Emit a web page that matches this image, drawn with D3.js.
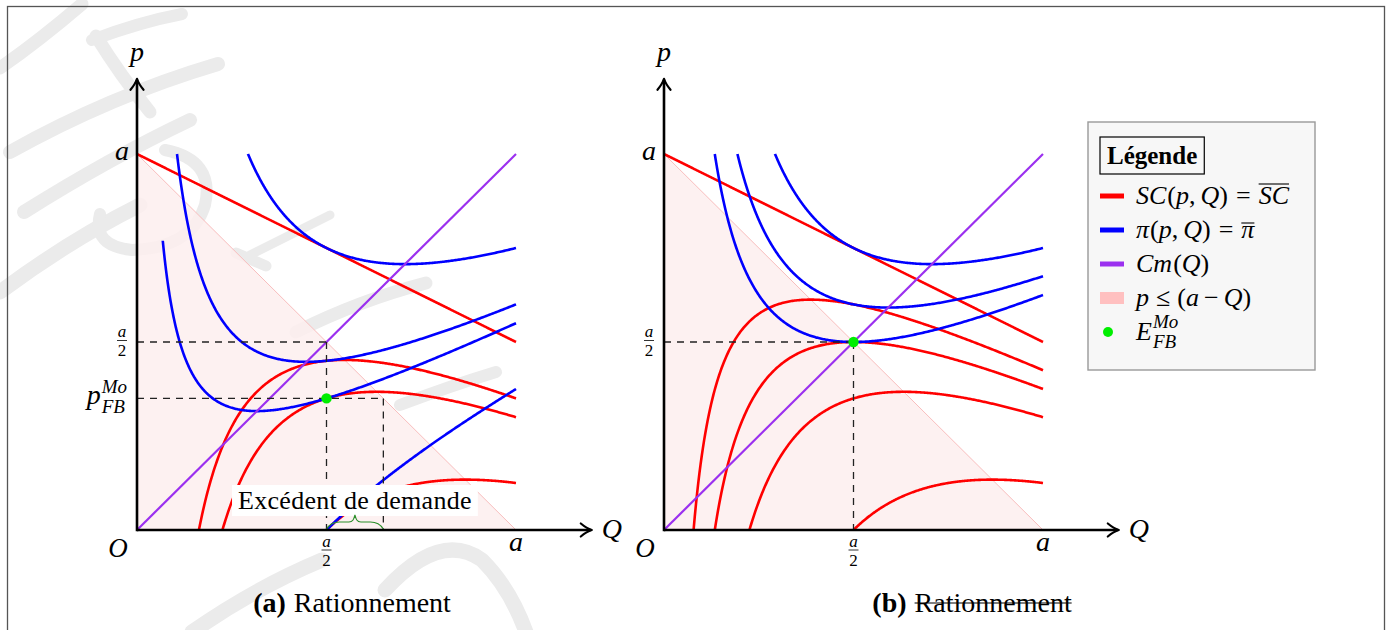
<!DOCTYPE html>
<html><head><meta charset="utf-8">
<script src="https://cdn.jsdelivr.net/npm/d3@7"></script>
<style>
body{margin:0;background:#fff}
svg{display:block}
text{font-family:"Liberation Serif","Times New Roman",serif;fill:#000}
</style>
</head><body>
<svg id="c" width="1391" height="630"></svg>
<script>
// ---------------- data ----------------
const A = 1; // the demand intercept "a"
// iso-surplus levels  SC = c :  p = a - Q/2 - c/Q
const scLevelsA = [0, 0.15, 0.2, 0.375];
const scLevelsB = [0, 0.075, 0.125, 0.2, 0.375];
// iso-profit levels  pi = k :  p = Q/2 + k/Q
const piLevelsA = [0.25, 0.1, 0.05, -0.125];
const piStartA  = [null, null, 0.068, null];
const piLevelsB = [0.25, 0.175, 0.125];
const piStartB  = [null, null, null];
// equilibrium points (Q, p)
const eqA = [0.5, 0.35];
const eqB = [0.5, 0.5];
const rationedQA = 0.65;      // demand at p_FB (a - p)
const axisExtent = 1.2;
const captionTags = ['(a)', '(b)'];
const captionWord = 'Rationnement';
const excessLabel = 'Excédent de demande';
const legendTitle = 'Légende';

// ---------------- colours ----------------
const RED = '#ff0000', BLUE = '#0000ff', PURPLE = '#9b30ef', GREEN = '#00ee00';
const PINKFILL = '#fdefef', PINKEDGE = '#f8bdbd', PINKSW = '#ffc0c0';

const svg = d3.select('#c');

// ---------------- watermark (decorative) ----------------
const wm = svg.append('g').attr('fill', 'none').attr('stroke', '#ebebeb')
  .attr('stroke-linecap', 'round').attr('stroke-linejoin', 'round');
const wmStrokes = [
  ['M0,68 Q40,40 82,4', 13],
  ['M92,40 Q140,22 182,14', 12],
  ['M96,36 Q120,75 150,112', 13],
  ['M10,152 Q110,96 218,64', 14],
  ['M24,212 Q110,158 190,120', 14],
  ['M0,292 Q70,240 140,205', 15],
  ['M165,150 Q215,160 205,205 Q192,248 132,250 Q92,246 100,214', 12],
  ['M236,253 L266,266', 11],
  ['M296,332 Q360,300 426,283', 13],
  ['M400,405 Q450,386 496,372', 12],
  ['M192,632 Q255,588 322,560', 15],
  ['M385,590 Q440,530 482,560 Q510,588 526,632', 15],
  ['M250,255 Q300,230 330,215', 9]
];
wmStrokes.forEach(s => wm.append('path').attr('d', s[0]).attr('stroke-width', s[1]));

// ---------------- frame ----------------
svg.append('rect').attr('x', 7.5).attr('y', 6.5).attr('width', 1377).attr('height', 650)
  .attr('fill', 'none').attr('stroke', '#555').attr('stroke-width', 1.3);

// ---------------- helpers ----------------
function seqText(g, x, y, parts, opt) {
  opt = opt || {};
  const grp = g.append('g');
  let cx = 0;
  parts.forEach(p => {
    if (p.gap) { cx += p.gap; return; }
    if (p.sub !== undefined || p.sup !== undefined) {
      let w = 0;
      [['sup', p.supDy], ['sub', p.subDy]].forEach(([key, dy]) => {
        if (p[key] === undefined) return;
        const t = grp.append('text').attr('x', cx).attr('y', dy)
          .attr('font-size', p.size).attr('font-style', 'italic').text(p[key]);
        w = Math.max(w, t.node().getComputedTextLength());
      });
      cx += w;
      return;
    }
    const t = grp.append('text').attr('x', cx).attr('y', p.dy || 0)
      .attr('font-size', p.size || opt.size || 26)
      .attr('font-style', p.it ? 'italic' : 'normal')
      .attr('font-weight', p.b ? 'bold' : 'normal')
      .text(p.t);
    const w = t.node().getComputedTextLength();
    if (p.over) {
      grp.append('line').attr('x1', cx + (p.overOff || 0)).attr('x2', cx + w + (p.overOff || 0))
        .attr('y1', p.overY).attr('y2', p.overY).attr('stroke', '#000').attr('stroke-width', 1.1);
    }
    if (p.strike) {
      grp.append('line').attr('x1', cx).attr('x2', cx + w)
        .attr('y1', p.strikeY).attr('y2', p.strikeY).attr('stroke', '#000').attr('stroke-width', 1.2);
    }
    cx += w + (p.after || 0);
  });
  let ox = x;
  if (opt.anchor === 'middle') ox = x - cx / 2;
  if (opt.anchor === 'end') ox = x - cx;
  grp.attr('transform', `translate(${ox},${y})`);
  return cx;
}

function frac(g, cx, barY, size) {
  g.append('text').attr('x', cx).attr('y', barY - 3.5).attr('text-anchor', 'middle')
    .attr('font-size', size).attr('font-style', 'italic').text('a');
  g.append('line').attr('x1', cx - 5).attr('x2', cx + 5).attr('y1', barY).attr('y2', barY)
    .attr('stroke', '#000').attr('stroke-width', 0.8);
  g.append('text').attr('x', cx).attr('y', barY + 15.5).attr('text-anchor', 'middle')
    .attr('font-size', size).text('2');
}

function arrowHead(g, x, y, rot) {
  g.append('path').attr('d', 'M-6.5,11 Q-1.5,5 0,0 Q1.5,5 6.5,11')
    .attr('transform', `translate(${x},${y}) rotate(${rot})`)
    .attr('fill', 'none').attr('stroke', '#000').attr('stroke-width', 2.2)
    .attr('stroke-linecap', 'round').attr('stroke-linejoin', 'round');
}

function scCurve(c) {
  const q0 = c === 0 ? 0 : A - Math.sqrt(A * A - 2 * c);
  return d3.range(301).map(i => { const q = q0 + (A - q0) * i / 300; return [q, c === 0 ? A - q / 2 : A - q / 2 - c / q]; });
}
function piCurve(k, start) {
  let q0 = start != null ? start : (k > 0 ? A - Math.sqrt(A * A - 2 * k) : Math.sqrt(-2 * k));
  return d3.range(401).map(i => { const t = i / 400; const q = q0 + (A - q0) * t * t; return [q, q / 2 + k / q]; });
}

// ---------------- panels ----------------
function panel(cfg) {
  const g = svg.append('g');
  const x = d3.scaleLinear().domain([0, A]).range([cfg.x0, cfg.x1]);
  const y = d3.scaleLinear().domain([0, A]).range([530, 154]);
  const line = d3.line().x(d => x(d[0])).y(d => y(d[1]));

  g.append('path').attr('d', line([[0, 0], [0, A], [A, 0]]) + 'Z').attr('fill', PINKFILL).attr('fill-opacity', 0.85);
  g.append('path').attr('d', line([[0, A], [A, 0]])).attr('stroke', PINKEDGE).attr('stroke-width', 1).attr('fill', 'none');

  cfg.sc.forEach(c => g.append('path').attr('d', line(scCurve(c)))
    .attr('fill', 'none').attr('stroke', RED).attr('stroke-width', 2.6));
  cfg.pi.forEach((k, i) => g.append('path').attr('d', line(piCurve(k, cfg.piStart[i])))
    .attr('fill', 'none').attr('stroke', BLUE).attr('stroke-width', 2.6));
  g.append('path').attr('d', line([[0, 0], [A, A]])).attr('fill', 'none').attr('stroke', PURPLE).attr('stroke-width', 2.2);

  const dash = (pts) => g.append('path').attr('d', line(pts)).attr('fill', 'none')
    .attr('stroke', '#222').attr('stroke-width', 1.3).attr('stroke-dasharray', '7,6');
  dash([[0, A / 2], [A / 2, A / 2]]);
  dash([[A / 2, A / 2], [A / 2, 0]]);
  if (cfg.rationing) {
    dash([[0, cfg.eq[1]], [cfg.rationQ, cfg.eq[1]]]);
    dash([[cfg.rationQ, cfg.eq[1]], [cfg.rationQ, 0]]);
  }
  g.append('circle').attr('cx', x(cfg.eq[0])).attr('cy', y(cfg.eq[1])).attr('r', 5.2).attr('fill', GREEN);

  if (cfg.rationing) {
    const mid = (x(cfg.eq[0]) + x(cfg.rationQ)) / 2;
    const t = g.append('text').attr('x', mid).attr('y', 509).attr('text-anchor', 'middle')
      .attr('font-size', 26).attr('letter-spacing', 0.3).text(excessLabel);
    const bb = t.node().getBBox();
    g.insert('rect', () => t.node()).attr('x', bb.x - 6).attr('y', 485).attr('width', bb.width + 12)
      .attr('height', 31).attr('fill', '#fff');
    const x1 = x(cfg.eq[0]), x2 = x(cfg.rationQ), xm = (x1 + x2) / 2, y0 = y(0);
    const p = d3.path();
    p.moveTo(x1, y0 - 1);
    p.bezierCurveTo(x1 + 3, y0 - 6, x1 + 7, y0 - 8, x1 + 13, y0 - 8);
    p.lineTo(xm - 6, y0 - 8);
    p.bezierCurveTo(xm - 2, y0 - 8, xm - 1, y0 - 11, xm, y0 - 15);
    p.bezierCurveTo(xm + 1, y0 - 11, xm + 2, y0 - 8, xm + 6, y0 - 8);
    p.lineTo(x2 - 13, y0 - 8);
    p.bezierCurveTo(x2 - 7, y0 - 8, x2 - 3, y0 - 6, x2, y0 - 1);
    g.append('path').attr('d', p.toString()).attr('fill', 'none').attr('stroke', '#2a8f2a').attr('stroke-width', 1.1);
  }

  // axes
  const x0 = x(0), y0 = y(0), xe = x(axisExtent), ye = y(axisExtent);
  g.append('line').attr('x1', x0).attr('x2', xe - 1).attr('y1', y0).attr('y2', y0).attr('stroke', '#000').attr('stroke-width', 2.6);
  g.append('line').attr('x1', x0).attr('x2', x0).attr('y1', y0 + 1.3).attr('y2', ye + 1).attr('stroke', '#000').attr('stroke-width', 2.6);
  arrowHead(g, xe, y0, 90);
  arrowHead(g, x0, ye, 0);

  g.append('text').attr('x', x0).attr('y', 61).attr('text-anchor', 'middle').attr('font-size', 28).attr('font-style', 'italic').text('p');
  g.append('text').attr('x', xe + 20).attr('y', y0 + 8).attr('text-anchor', 'middle').attr('font-size', 28).attr('font-style', 'italic').text('Q');
  g.append('text').attr('x', x0 - 15).attr('y', y(A) + 6).attr('text-anchor', 'middle').attr('font-size', 28).attr('font-style', 'italic').text('a');
  g.append('text').attr('x', x(A)).attr('y', y0 + 21).attr('text-anchor', 'middle').attr('font-size', 28).attr('font-style', 'italic').text('a');
  g.append('text').attr('x', x0 - 19).attr('y', y0 + 27).attr('text-anchor', 'middle').attr('font-size', 27).attr('font-style', 'italic').text('O');
  frac(g, x0 - 15, y(A / 2) - 1.5, 17);
  frac(g, x(A / 2), y0 + 20, 17);
  if (cfg.rationing) {
    seqText(g, x0 - 10, y(cfg.eq[1]) + 6, [
      { t: 'p', it: true, size: 28, after: 1 },
      { sup: 'Mo', sub: 'FB', size: 19, supDy: -11, subDy: 9 }
    ], { anchor: 'end' });
  }
  seqText(g, cfg.capX, 612, [
    { t: cfg.tag, b: true, size: 28 },
    { gap: 8 },
    { t: captionWord, size: 28, strike: cfg.strike, strikeY: -9 }
  ], { anchor: 'middle' });
}

panel({ x0: 137, x1: 516, sc: scLevelsA, pi: piLevelsA, piStart: piStartA, eq: eqA, rationQ: rationedQA,
  rationing: true, tag: captionTags[0], capX: 352, strike: false });
panel({ x0: 664, x1: 1043, sc: scLevelsB, pi: piLevelsB, piStart: piStartB, eq: eqB,
  rationing: false, tag: captionTags[1], capX: 972, strike: true });

// ---------------- legend ----------------
const lg = svg.append('g');
lg.append('rect').attr('x', 1088).attr('y', 122).attr('width', 227).attr('height', 248)
  .attr('fill', '#f7f7f7').attr('stroke', '#999').attr('stroke-width', 1.4);
const tt = lg.append('text').attr('x', 1107).attr('y', 164).attr('font-size', 25).attr('font-weight', 'bold').text(legendTitle);
const tb = tt.node().getBBox();
lg.append('rect').attr('x', 1100).attr('y', 137).attr('width', tb.width + 14).attr('height', 37)
  .attr('fill', 'none').attr('stroke', '#000').attr('stroke-width', 1.2);

const legendRows = [
  { kind: 'line', color: RED, parts: [
    { t: 'SC', it: true, after: 1 }, { t: '(' }, { t: 'p', it: true }, { t: ',', after: 5 }, { t: 'Q', it: true }, { t: ')', after: 8 },
    { t: '=', after: 8 }, { t: 'SC', it: true, over: true, overY: -20 } ] },
  { kind: 'line', color: BLUE, parts: [
    { t: 'π', it: true, after: 1 }, { t: '(' }, { t: 'p', it: true }, { t: ',', after: 5 }, { t: 'Q', it: true }, { t: ')', after: 8 },
    { t: '=', after: 8 }, { t: 'π', it: true, over: true, overY: -15 } ] },
  { kind: 'line', color: PURPLE, parts: [ { t: 'Cm', it: true, after: 1 }, { t: '(' }, { t: 'Q', it: true }, { t: ')' } ] },
  { kind: 'area', color: PINKSW, parts: [ { t: 'p', it: true, after: 7 }, { t: '≤', after: 7 }, { t: '(' }, { t: 'a', it: true, after: 5 },
    { t: '−', after: 5 }, { t: 'Q', it: true }, { t: ')' } ] },
  { kind: 'dot', color: GREEN, parts: [ { t: 'E', it: true, after: 1 }, { sup: 'Mo', sub: 'FB', size: 19, supDy: -12, subDy: 8 } ] }
];
const rowY = [196, 230, 264, 298, 332];
legendRows.forEach((r, i) => {
  const cy = rowY[i];
  if (r.kind === 'line') lg.append('line').attr('x1', 1100).attr('x2', 1124).attr('y1', cy).attr('y2', cy)
    .attr('stroke', r.color).attr('stroke-width', 5);
  if (r.kind === 'area') lg.append('rect').attr('x', 1100).attr('y', cy - 6).attr('width', 24).attr('height', 12).attr('fill', r.color);
  if (r.kind === 'dot') lg.append('circle').attr('cx', 1108).attr('cy', cy).attr('r', 5).attr('fill', r.color);
  seqText(lg, 1136, cy + 8, r.parts, { size: 26 });
});
</script>
</body></html>
